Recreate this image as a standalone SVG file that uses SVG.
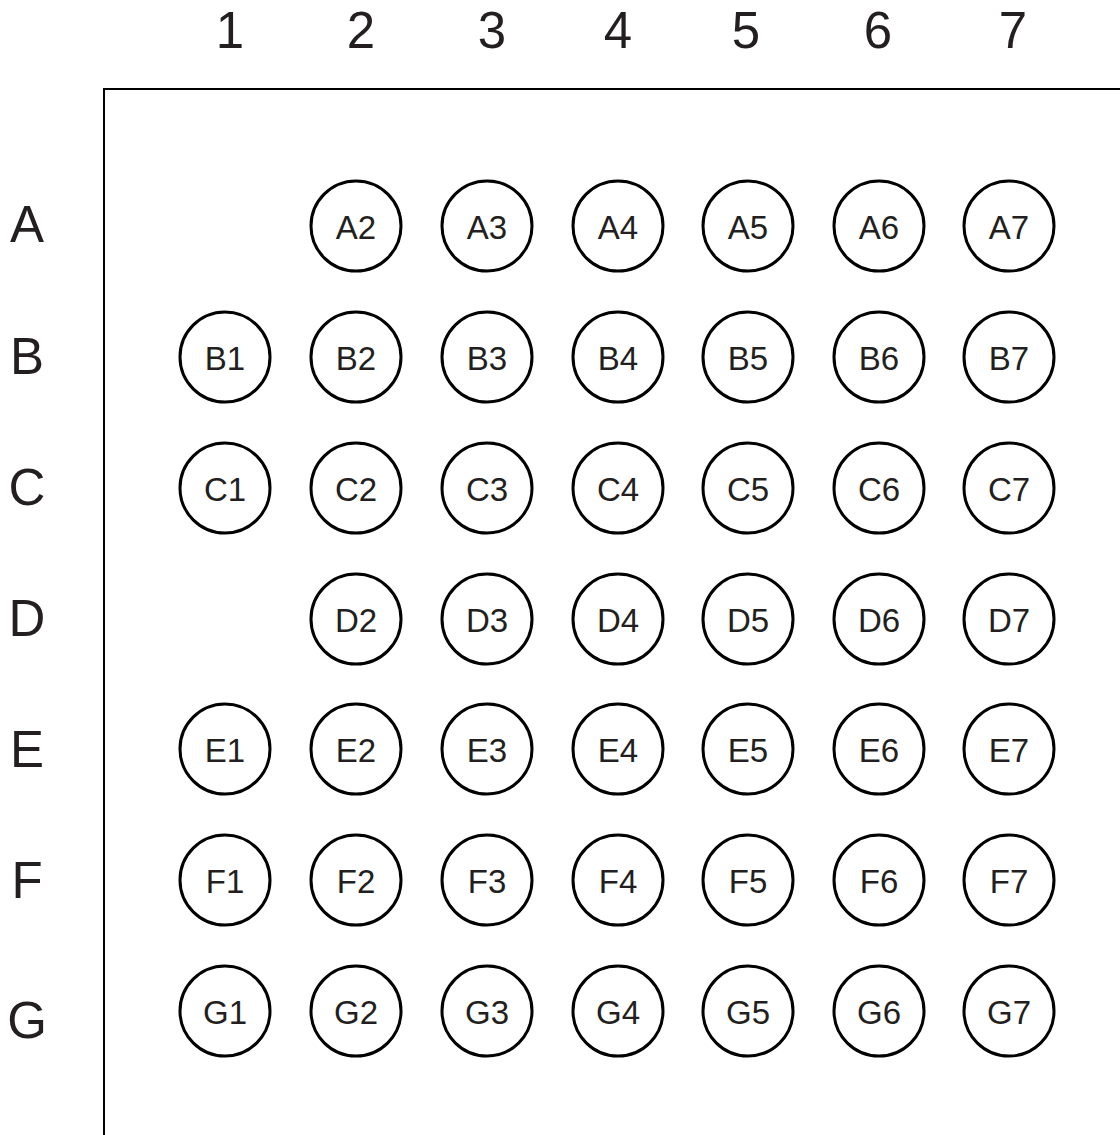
<svg xmlns="http://www.w3.org/2000/svg" width="1120" height="1135" viewBox="0 0 1120 1135">
<style>
.w{fill:#fff;stroke:#000;stroke-width:3}
.l{font-family:"Liberation Sans",Arial,sans-serif;font-size:33px;fill:#231f20;text-anchor:middle}
.h{font-family:"Liberation Sans",Arial,sans-serif;font-size:51px;fill:#231f20;text-anchor:middle}
.ax{fill:none;stroke:#000;stroke-width:2}
</style>
<rect width="1120" height="1135" fill="#fff"/>
<g id="axes"><path class="ax" d="M1120 89 H104 V1135"/></g>
<g id="col-headers">
<text class="h" x="230" y="48">1</text>
<text class="h" x="361" y="48">2</text>
<text class="h" x="492" y="48">3</text>
<text class="h" x="618" y="48">4</text>
<text class="h" x="746" y="48">5</text>
<text class="h" x="878" y="48">6</text>
<text class="h" x="1013" y="48">7</text>
</g>
<g id="row-headers">
<text class="h" x="27" y="242">A</text>
<text class="h" x="27" y="374">B</text>
<text class="h" x="27" y="505">C</text>
<text class="h" x="27" y="636">D</text>
<text class="h" x="27" y="767">E</text>
<text class="h" x="27" y="898">F</text>
<text class="h" x="27" y="1038">G</text>
</g>
<g id="wells">
<g id="A2"><circle class="w" cx="356" cy="226" r="45"/><text class="l" x="356" y="239">A2</text></g>
<g id="A3"><circle class="w" cx="487" cy="226" r="45"/><text class="l" x="487" y="239">A3</text></g>
<g id="A4"><circle class="w" cx="618" cy="226" r="45"/><text class="l" x="618" y="239">A4</text></g>
<g id="A5"><circle class="w" cx="748" cy="226" r="45"/><text class="l" x="748" y="239">A5</text></g>
<g id="A6"><circle class="w" cx="879" cy="226" r="45"/><text class="l" x="879" y="239">A6</text></g>
<g id="A7"><circle class="w" cx="1009" cy="226" r="45"/><text class="l" x="1009" y="239">A7</text></g>
<g id="B1"><circle class="w" cx="225" cy="357" r="45"/><text class="l" x="225" y="370">B1</text></g>
<g id="B2"><circle class="w" cx="356" cy="357" r="45"/><text class="l" x="356" y="370">B2</text></g>
<g id="B3"><circle class="w" cx="487" cy="357" r="45"/><text class="l" x="487" y="370">B3</text></g>
<g id="B4"><circle class="w" cx="618" cy="357" r="45"/><text class="l" x="618" y="370">B4</text></g>
<g id="B5"><circle class="w" cx="748" cy="357" r="45"/><text class="l" x="748" y="370">B5</text></g>
<g id="B6"><circle class="w" cx="879" cy="357" r="45"/><text class="l" x="879" y="370">B6</text></g>
<g id="B7"><circle class="w" cx="1009" cy="357" r="45"/><text class="l" x="1009" y="370">B7</text></g>
<g id="C1"><circle class="w" cx="225" cy="488" r="45"/><text class="l" x="225" y="501">C1</text></g>
<g id="C2"><circle class="w" cx="356" cy="488" r="45"/><text class="l" x="356" y="501">C2</text></g>
<g id="C3"><circle class="w" cx="487" cy="488" r="45"/><text class="l" x="487" y="501">C3</text></g>
<g id="C4"><circle class="w" cx="618" cy="488" r="45"/><text class="l" x="618" y="501">C4</text></g>
<g id="C5"><circle class="w" cx="748" cy="488" r="45"/><text class="l" x="748" y="501">C5</text></g>
<g id="C6"><circle class="w" cx="879" cy="488" r="45"/><text class="l" x="879" y="501">C6</text></g>
<g id="C7"><circle class="w" cx="1009" cy="488" r="45"/><text class="l" x="1009" y="501">C7</text></g>
<g id="D2"><circle class="w" cx="356" cy="619" r="45"/><text class="l" x="356" y="632">D2</text></g>
<g id="D3"><circle class="w" cx="487" cy="619" r="45"/><text class="l" x="487" y="632">D3</text></g>
<g id="D4"><circle class="w" cx="618" cy="619" r="45"/><text class="l" x="618" y="632">D4</text></g>
<g id="D5"><circle class="w" cx="748" cy="619" r="45"/><text class="l" x="748" y="632">D5</text></g>
<g id="D6"><circle class="w" cx="879" cy="619" r="45"/><text class="l" x="879" y="632">D6</text></g>
<g id="D7"><circle class="w" cx="1009" cy="619" r="45"/><text class="l" x="1009" y="632">D7</text></g>
<g id="E1"><circle class="w" cx="225" cy="749" r="45"/><text class="l" x="225" y="762">E1</text></g>
<g id="E2"><circle class="w" cx="356" cy="749" r="45"/><text class="l" x="356" y="762">E2</text></g>
<g id="E3"><circle class="w" cx="487" cy="749" r="45"/><text class="l" x="487" y="762">E3</text></g>
<g id="E4"><circle class="w" cx="618" cy="749" r="45"/><text class="l" x="618" y="762">E4</text></g>
<g id="E5"><circle class="w" cx="748" cy="749" r="45"/><text class="l" x="748" y="762">E5</text></g>
<g id="E6"><circle class="w" cx="879" cy="749" r="45"/><text class="l" x="879" y="762">E6</text></g>
<g id="E7"><circle class="w" cx="1009" cy="749" r="45"/><text class="l" x="1009" y="762">E7</text></g>
<g id="F1"><circle class="w" cx="225" cy="880" r="45"/><text class="l" x="225" y="893">F1</text></g>
<g id="F2"><circle class="w" cx="356" cy="880" r="45"/><text class="l" x="356" y="893">F2</text></g>
<g id="F3"><circle class="w" cx="487" cy="880" r="45"/><text class="l" x="487" y="893">F3</text></g>
<g id="F4"><circle class="w" cx="618" cy="880" r="45"/><text class="l" x="618" y="893">F4</text></g>
<g id="F5"><circle class="w" cx="748" cy="880" r="45"/><text class="l" x="748" y="893">F5</text></g>
<g id="F6"><circle class="w" cx="879" cy="880" r="45"/><text class="l" x="879" y="893">F6</text></g>
<g id="F7"><circle class="w" cx="1009" cy="880" r="45"/><text class="l" x="1009" y="893">F7</text></g>
<g id="G1"><circle class="w" cx="225" cy="1011" r="45"/><text class="l" x="225" y="1024">G1</text></g>
<g id="G2"><circle class="w" cx="356" cy="1011" r="45"/><text class="l" x="356" y="1024">G2</text></g>
<g id="G3"><circle class="w" cx="487" cy="1011" r="45"/><text class="l" x="487" y="1024">G3</text></g>
<g id="G4"><circle class="w" cx="618" cy="1011" r="45"/><text class="l" x="618" y="1024">G4</text></g>
<g id="G5"><circle class="w" cx="748" cy="1011" r="45"/><text class="l" x="748" y="1024">G5</text></g>
<g id="G6"><circle class="w" cx="879" cy="1011" r="45"/><text class="l" x="879" y="1024">G6</text></g>
<g id="G7"><circle class="w" cx="1009" cy="1011" r="45"/><text class="l" x="1009" y="1024">G7</text></g>
</g>
</svg>
